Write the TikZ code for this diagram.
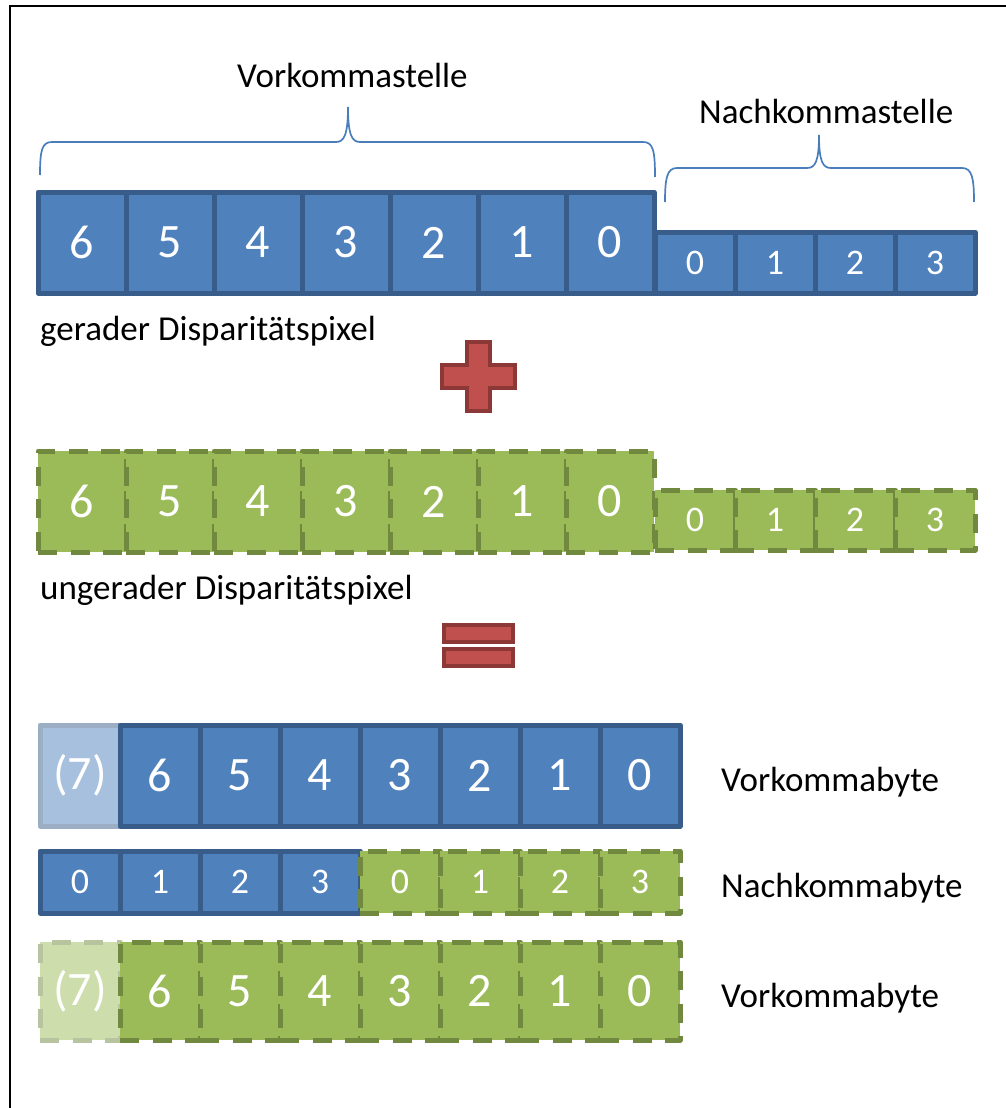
\documentclass[tikz,border=0pt]{standalone}
\usepackage{fontspec}
\setmainfont{Carlito}

\definecolor{bluefill}{HTML}{4F81BD}
\definecolor{blueline}{HTML}{385D8A}
\definecolor{bluefillpale}{HTML}{A7C0DE}
\definecolor{bluelinepale}{HTML}{9BAEC4}
\definecolor{greenfill}{HTML}{9BBB59}
\definecolor{greenline}{HTML}{71893F}
\definecolor{greenfillpale}{HTML}{CDDDAC}
\definecolor{greenlinepale}{HTML}{B8C49F}
\definecolor{redfill}{HTML}{C0504D}
\definecolor{redline}{HTML}{8C3836}
\definecolor{bracecol}{HTML}{4A7EBB}

\tikzset{
  cell/.style={rectangle, inner sep=0pt, line width=5pt, line join=round, text=white},
  bluecell/.style={cell, draw=blueline, fill=bluefill},
  palebluecell/.style={cell, draw=bluelinepale, fill=bluefillpale},
  greencell/.style={cell, draw=greenline, fill=greenfill, dash pattern=on 19pt off 13.5pt},
  palegreencell/.style={cell, draw=greenlinepale, fill=greenfillpale, dash pattern=on 19pt off 13.5pt},
  wideint/.style={minimum width=88pt, minimum height=101pt, font=\fontsize{48}{56}\selectfont},
  widefrac/.style={minimum width=80pt, font=\fontsize{36}{42}\selectfont},
  bytecell/.style={minimum width=80pt, font=\fontsize{48}{56}\selectfont},
  lbl/.style={inner sep=0pt, anchor=base west, font=\fontsize{35}{41}\selectfont},
  brace/.style={draw=bracecol, line width=1.7pt},
  op/.style={fill=redfill, draw=redline, line width=4.5pt, line join=miter},
}

\begin{document}
\begin{tikzpicture}[x=1pt, y=-1pt]
\useasboundingbox (0,0) rectangle (1006,1108);

% frame (open to the right and bottom)
\draw[line width=2.4pt] (1006,6) -- (10,6) -- (10,1108);

% even pixel: integer part and fractional part
\foreach \i in {0,...,6} {
  \pgfmathtruncatemacro\d{6-\i}
  \node[bluecell, wideint] (ea\d) at ({82+88*\i},242.5) {\d};
}
\foreach \i in {0,...,3}
  \node[bluecell, widefrac, minimum height=61pt] (ef\i) at ({695+80*\i},262.5) {\i};

% braces
\draw[brace] (40,175) .. controls (40,150) and (42,142) .. (52,142) -- (336,142)
  .. controls (344,142) and (348,135) .. (348,107)
  .. controls (348,135) and (352,142) .. (360,142) -- (643,142)
  .. controls (653,142) and (655,150) .. (655,177);
\draw[brace] (665,202) .. controls (665,178) and (667,168) .. (677,168) -- (807,168)
  .. controls (815,168) and (819,162) .. (819,135)
  .. controls (819,162) and (823,168) .. (831,168) -- (962,168)
  .. controls (972,168) and (974,178) .. (974,202);

\node[lbl] (vks) at (237,88) {Vorkommastelle};
\node[lbl] (nks) at (699,123) {Nachkommastelle};
\node[lbl] (gdp) at (40,340) {gerader Disparitätspixel};

% plus sign
\draw[op] (467,342) -- (490,342) -- (490,365) -- (515,365) -- (515,388) -- (490,388)
  -- (490,411) -- (467,411) -- (467,388) -- (442,388) -- (442,365) -- (467,365) -- cycle;

% odd pixel: integer part and fractional part
\foreach \i in {0,...,6} {
  \pgfmathtruncatemacro\d{6-\i}
  \node[greencell, wideint] (oa\d) at ({82+88*\i},501.5) {\d};
}
\foreach \i in {0,...,3}
  \node[greencell, widefrac, minimum height=60pt] (of\i) at ({695+80*\i},520) {\i};

\node[lbl] (udp) at (40,599) {ungerader Disparitätspixel};

% equals sign
\draw[op] (444,625) rectangle (513,642);
\draw[op] (444,649) rectangle (513,666);

% integer byte of the even pixel
\node[palebluecell, bytecell, minimum height=101pt] (bv7) at (80,775.5) {(7)};
\foreach \i in {0,...,6} {
  \pgfmathtruncatemacro\d{6-\i}
  \node[bluecell, bytecell, minimum height=101pt] (bv\d) at ({160+80*\i},775.5) {\d};
}
\node[lbl] (vkb1) at (721,791) {Vorkommabyte};

% shared fractional byte
\foreach \i in {0,...,3}
  \node[bluecell, widefrac, minimum height=62pt] (nb\i) at ({80+80*\i},882) {\i};
\foreach \i in {0,...,3}
  \node[greencell, widefrac, minimum height=62pt] (ng\i) at ({400+80*\i},882) {\i};
\node[lbl] (nkb) at (721,897) {Nachkommabyte};

% integer byte of the odd pixel
\node[palegreencell, bytecell, minimum height=98pt] (gv7) at (80,991) {(7)};
\foreach \i in {0,...,6} {
  \pgfmathtruncatemacro\d{6-\i}
  \node[greencell, bytecell, minimum height=98pt] (gv\d) at ({160+80*\i},991) {\d};
}
\node[lbl] (vkb2) at (721,1007) {Vorkommabyte};
\end{tikzpicture}
\end{document}
